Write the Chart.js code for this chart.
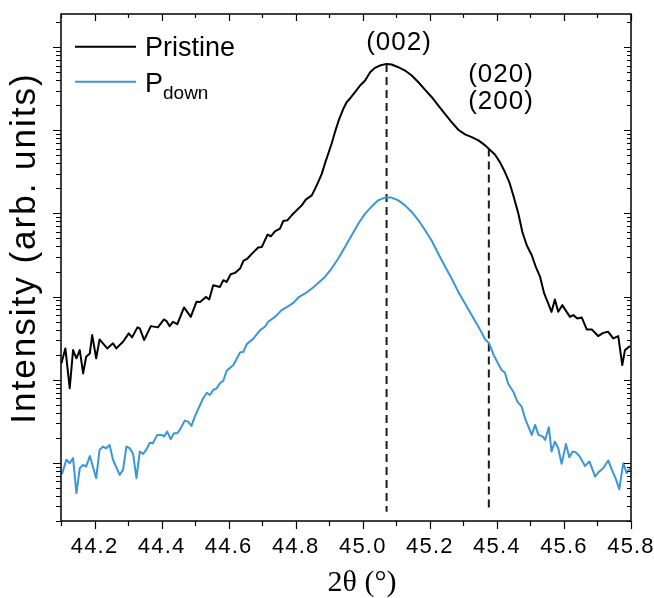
<!DOCTYPE html>
<html>
<head>
<meta charset="utf-8">
<script src="https://cdn.jsdelivr.net/npm/chart.js@4.4.1/dist/chart.umd.min.js"></script>
<style>
  html, body { margin: 0; padding: 0; background: #fff; }
</style>
</head>
<body>
<canvas id="xrd" width="654" height="598"></canvas>
<script>
// 2theta positions and intensities
const pristineX = [44.101,44.113,44.126,44.136,44.146,44.156,44.166,44.175,44.186,44.193,44.205,44.215,44.225,44.238,44.255,44.265,44.285,44.302,44.312,44.328,44.335,44.348,44.368,44.389,44.407,44.414,44.424,44.434,44.447,44.467,44.487,44.504,
  44.515,44.532,44.542,44.554,44.574,44.584,44.594,44.606,44.619,44.634,44.644,44.656,44.672,44.688,44.699,44.716,44.726,44.738,44.753,44.763,44.775,44.788,44.803,44.818,44.830,44.848,44.858,44.867,44.878,44.887,44.897,44.907,44.917,44.930,44.942,44.952,
  44.962,44.977,44.992,45.007,45.022,45.036,45.051,45.071,45.086,45.106,45.126,45.146,45.166,45.186,45.206,45.225,45.245,45.265,45.285,45.305,45.325,45.345,45.365,45.379,
  45.394,45.409,45.424,45.437,45.449,45.464,45.476,45.489,45.504,45.516,45.529,45.541,45.553,45.563,45.573,45.583,45.595,45.608,45.618,45.628,45.640,45.653,45.668,45.683,45.702,45.717,45.732,45.747,45.762,45.774,45.782,45.797];
const pristineY = [157,238,78.9,227,181,227,119,189,207,344,181,305,274,238,274,238,286,361,323,426,414,300,441,426,531,511,441,497,466,740,570,864,
  863,991,923,1371,1306,1574,1500,1858,1927,2173,2685,2864,3350,3882,3954,5560,5310,6095,6577,8110,8260,9485,10890,12500,14650,16480,19860,23820,30060,39630,52240,68870,94840,137400,181100,217300,
  241000,286600,345100,396300,497800,562300,599800,628100,616600,572800,522400,455000,377600,306200,249500,198600,157800,125000,101400,89130,82600,75510,65770,58340,
  51170,41400,31410,23820,16480,9954,5984,4140,3141,2275,1722,1089,826,655,923,655,788,655,570,598,546,561,403,403,335,366,377,314,335,150,227,254];

const pdownX = [44.103,44.116,44.126,44.136,44.146,44.156,44.166,44.175,44.186,44.205,44.215,44.225,44.235,44.245,44.255,44.275,44.285,44.295,44.305,44.315,44.325,44.335,44.345,44.354,44.365,44.374,44.387,44.401,44.407,44.417,44.427,44.437,44.447,44.457,44.469,44.479,44.489,44.499,44.509,
  44.524,44.535,44.544,44.554,44.564,44.574,44.584,44.594,44.614,44.634,44.644,44.654,44.674,44.694,44.708,44.718,44.738,44.758,44.778,44.793,44.808,44.828,44.852,44.867,44.887,44.907,44.927,44.947,
  44.967,44.987,45.007,45.027,45.046,45.066,45.086,45.106,45.126,45.146,45.166,45.186,45.206,45.225,45.245,45.265,45.285,45.305,45.325,45.345,45.355,45.365,45.377,
  45.389,45.401,45.414,45.424,45.434,45.449,45.461,45.474,45.484,45.494,45.504,45.514,45.524,45.537,45.544,45.555,45.563,45.573,45.583,45.593,45.606,45.616,45.626,45.636,45.646,45.663,45.676,45.693,45.702,45.717,45.732,45.742,45.755,45.765,45.777,45.787,45.797];
const pdownY = [7.38,10.9,9.9,11.4,4.33,8.63,9.46,9.03,12.1,6.55,14.3,15.7,15.0,16.4,10.9,7.18,8.24,15.7,15.0,12.8,6.55,13.7,12.8,14.3,17.5,17.2,21.7,21.7,20.7,23.8,19.3,22.7,22.7,26.1,32.2,31.3,27.8,36.0,44.2,
  59.8,69.8,65.5,75.2,78.8,90.5,97.3,128,150,213,217,268,314,395,433,497,570,687,767,840,975,1089,1285,1459,1722,2173,2864,3954,
  5458,7551,9954,12160,14360,15490,15490,14360,12500,10400,8260,6266,4667,3289,2317,1648,1138,826,598,433,366,305,274,
  204,164,131,121,88.7,71.8,54.5,47.4,34.4,27.3,21.7,28.6,21.7,20.7,18.9,26.8,13.7,18.0,15.0,9.73,16.9,11.7,13.7,13.3,12.1,9.20,10.4,6.85,7.65,8.63,10.7,8.40,6.37,4.83,9.92,7.52,8.63];

// reflection markers: (002) and (020)/(200)
const peakX = [45.071, 45.376];
const peakTop = [628000, 60500];
const peakBottom = 2.58;

// axes
const xTicks = [44.2, 44.4, 44.6, 44.8, 45.0, 45.2, 45.4, 45.6, 45.8];
const xMinorTicks = [44.1, 44.3, 44.5, 44.7, 44.9, 45.1, 45.3, 45.5, 45.7];
const yMajorTicks = [10, 100, 1000, 10000, 100000, 1000000];
const xRange = [44.1, 45.8];
const yRange = [2, 2.5e6];

const SANS = "'Liberation Sans', Arial, sans-serif";
const BLUE = 'rgb(58,150,216)';

const toPoints = (xs, ys) => xs.map((x, i) => ({ x: x, y: ys[i] }));

const datasets = [
  { label: 'Pristine', data: toPoints(pristineX, pristineY), borderColor: '#000', borderWidth: 2 },
  { label: 'Pdown', data: toPoints(pdownX, pdownY), borderColor: BLUE, borderWidth: 2 },
];
peakX.forEach((px, i) => {
  datasets.push({
    label: 'peak' + i,
    data: [{ x: px, y: peakTop[i] }, { x: px, y: peakBottom }],
    borderColor: '#1a1a1a', borderWidth: 2, borderDash: [8, 5],
  });
});

// frame, tick marks, legend and labels (Origin style)
const decor = {
  id: 'decor',
  beforeDraw(chart) {
    // tick labels in the original are slightly spaced out
    chart.ctx.letterSpacing = '1.2px';
  },
  afterDraw(chart) {
    const { ctx, chartArea: a, scales: { x, y } } = chart;
    ctx.save();
    ctx.strokeStyle = '#000';
    ctx.lineWidth = 1.5;
    ctx.strokeRect(a.left, a.top, a.right - a.left, a.bottom - a.top);

    ctx.beginPath();
    const xMarks = xTicks.map(v => [v, true]).concat(xMinorTicks.map(v => [v, false]));
    xMarks.forEach(([v, major]) => {
      const px = Math.round(x.getPixelForValue(v)) + 0.5;
      ctx.moveTo(px, a.bottom); ctx.lineTo(px, a.bottom + (major ? 8 : 5));
      ctx.moveTo(px, a.top); ctx.lineTo(px, a.top + (major ? 7 : 4));
    });
    const yMarks = [];
    for (let k = 0; k <= 6; k++) {
      for (let m = 1; m <= 9; m++) {
        const v = m * Math.pow(10, k);
        if (v >= yRange[0] && v <= yRange[1]) yMarks.push([v, yMajorTicks.includes(v)]);
      }
    }
    yMarks.forEach(([v, major]) => {
      const py = Math.round(y.getPixelForValue(v)) + 0.5;
      ctx.moveTo(a.left, py); ctx.lineTo(a.left - (major ? 8 : 5), py);
      ctx.moveTo(a.right, py); ctx.lineTo(a.right - (major ? 7 : 4), py);
    });
    ctx.lineWidth = 1.2;
    ctx.stroke();

    // legend
    ctx.lineWidth = 2;
    [[46.7, '#000'], [81.7, BLUE]].forEach(([ly, c]) => {
      ctx.strokeStyle = c;
      ctx.beginPath(); ctx.moveTo(75, ly); ctx.lineTo(136, ly); ctx.stroke();
    });
    ctx.fillStyle = '#000';
    ctx.textBaseline = 'alphabetic';
    ctx.textAlign = 'left';
    ctx.letterSpacing = '0px';
    ctx.font = '27px ' + SANS;
    ctx.fillText('Pristine', 145, 56);
    ctx.fillText('P', 145, 91.5);
    const pw = ctx.measureText('P').width;
    ctx.font = '19px ' + SANS;
    ctx.fillText('down', 145 + pw, 98.5);

    // reflection labels
    ctx.font = '26px ' + SANS;
    ctx.letterSpacing = '1px';
    ctx.textAlign = 'center';
    ctx.fillText('(002)', 399, 50);
    ctx.fillText('(020)', 501, 82);
    ctx.fillText('(200)', 501, 108.5);

    // axis titles
    ctx.letterSpacing = '0px';
    ctx.font = '30px "Liberation Serif", "Times New Roman", serif';
    ctx.fillText('2\u03B8 (\u00B0)', 362, 591);
    ctx.save();
    ctx.translate(35, 248);
    ctx.rotate(-Math.PI / 2);
    ctx.letterSpacing = '2px';
    ctx.font = '35px ' + SANS;
    ctx.fillText('Intensity (arb. units)', 0, 0);
    ctx.restore();
    ctx.restore();
  }
};

new Chart(document.getElementById('xrd'), {
  type: 'line',
  data: { datasets: datasets },
  options: {
    responsive: false,
    animation: false,
    events: [],
    layout: { padding: { left: 0, top: 14, right: 23, bottom: 0 } },
    elements: {
      line: { tension: 0, borderJoinStyle: 'round', fill: false },
      point: { radius: 0 }
    },
    plugins: { legend: { display: false }, tooltip: { enabled: false } },
    scales: {
      x: {
        type: 'linear',
        min: xRange[0], max: xRange[1],
        afterBuildTicks: s => { s.ticks = xTicks.map(v => ({ value: v })); },
        afterFit: s => { s.height = 77; s.paddingLeft = 0; s.paddingRight = 0; },
        grid: { display: false, drawTicks: false },
        border: { display: false },
        ticks: {
          padding: 13,
          color: '#000',
          font: { family: SANS, size: 22 },
          maxRotation: 0,
          autoSkip: false,
          callback: v => v.toFixed(1)
        }
      },
      y: {
        type: 'logarithmic',
        min: yRange[0], max: yRange[1],
        afterFit: s => { s.width = 61; s.paddingTop = 0; s.paddingBottom = 0; },
        grid: { display: false, drawTicks: false },
        border: { display: false },
        ticks: { display: false }
      }
    }
  },
  plugins: [decor]
});
</script>
</body>
</html>
